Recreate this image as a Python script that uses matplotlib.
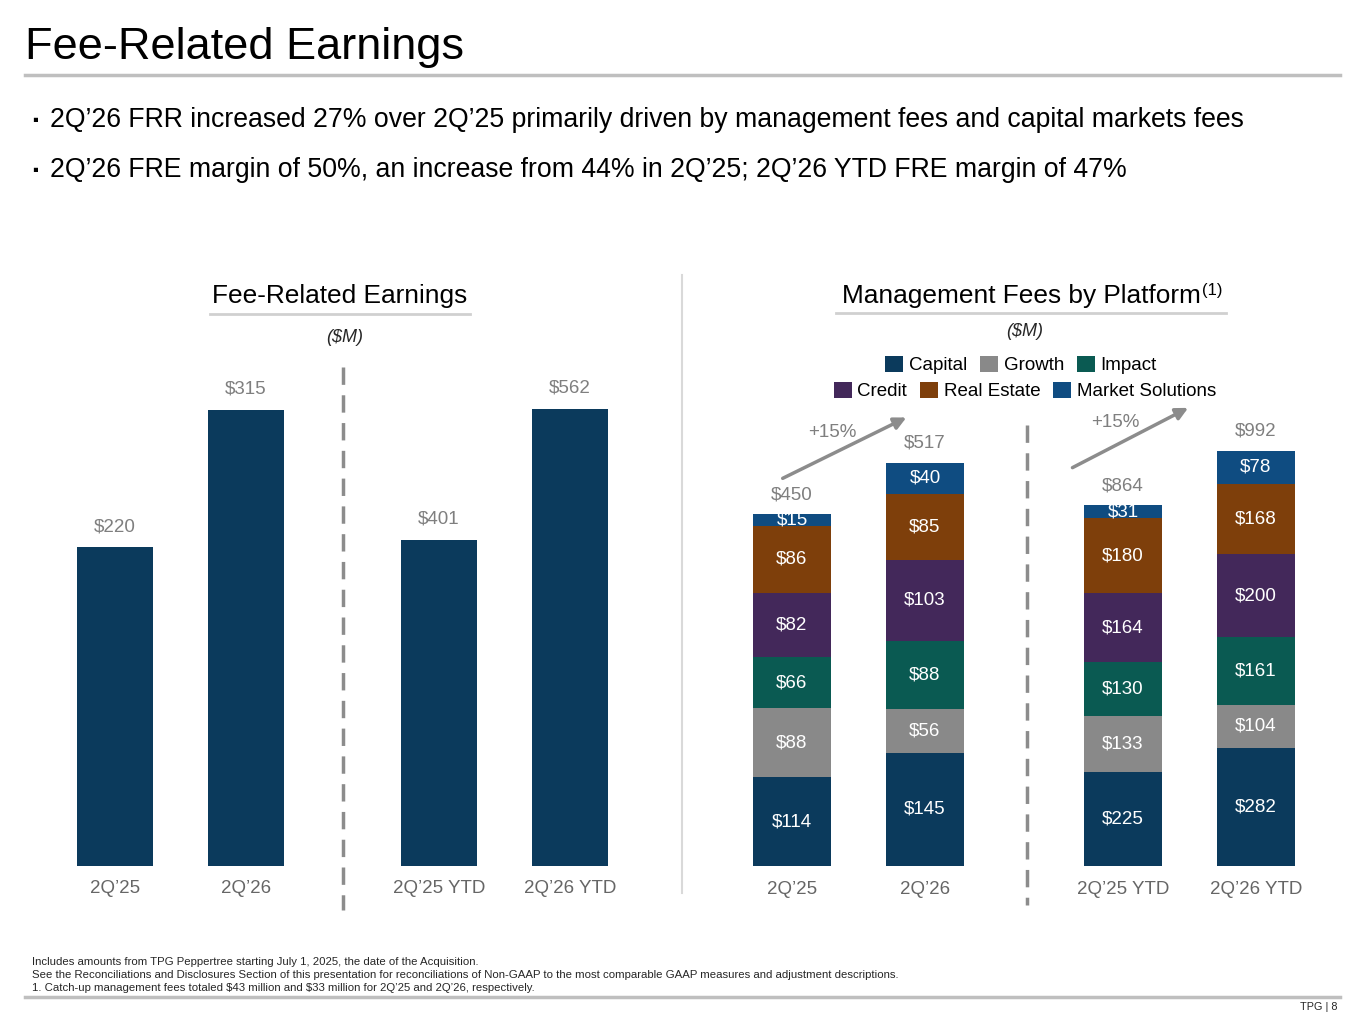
import numpy as np
import matplotlib.pyplot as plt
from matplotlib.lines import Line2D
from matplotlib.patches import Patch

plt.rcParams['font.family'] = ['Liberation Sans', 'DejaVu Sans']

# ---- data ($M) ----
fre_qtr_labels = ["2Q’25", "2Q’26"]
fre_qtr = [220, 315]
fre_ytd_labels = ["2Q’25 YTD", "2Q’26 YTD"]
fre_ytd = [401, 562]

platforms = ["Capital", "Growth", "Impact", "Credit", "Real Estate", "Market Solutions"]
mf_2q25 = [114, 88, 66, 82, 86, 15]
mf_2q26 = [145, 56, 88, 103, 85, 40]
mf_2q25_ytd = [225, 133, 130, 164, 180, 31]
mf_2q26_ytd = [282, 104, 161, 200, 168, 78]
mf_qtr_totals = [450, 517]
mf_ytd_totals = [864, 992]
growth_label = "+15%"

colors = ["#0B3A5C", "#898989", "#0A5A52", "#43285A", "#7E3F0B", "#0F4C81"]
navy = "#0B3A5C"
grey_txt = "#7F7F7F"
cat_txt = "#666666"

W, H = 1365, 1024
fig = plt.figure(figsize=(W / 100, H / 100), dpi=100)


def fx(px):
    return px / W


def fy(py):
    return 1 - py / H


def hline(x0, x1, y, color, lw):
    fig.add_artist(Line2D([fx(x0), fx(x1)], [fy(y), fy(y)], color=color, lw=lw,
                          transform=fig.transFigure))


def vline(x, y0, y1, color, lw, ls='-'):
    fig.add_artist(Line2D([fx(x), fx(x)], [fy(y0), fy(y1)], color=color, lw=lw, ls=ls,
                          dashes=(5, 3) if ls == '--' else (None, None),
                          transform=fig.transFigure))


def make_ax(center0, spacing, scale, base=866, top=380):
    left = center0 - spacing / 2
    ax = fig.add_axes([fx(left), fy(base), 2 * spacing / W, (base - top) / H])
    ax.set_xlim(-0.5, 1.5)
    ax.set_ylim(0, (base - top) / scale)
    ax.axis('off')
    return ax


# ---- header ----
fig.text(fx(25), fy(47), "Fee-Related Earnings", fontsize=32.5, va='center', ha='left', color='black')
hline(25, 1340, 75, "#BFBFBF", 2.5)
fig.text(fx(32), fy(120), "▪", fontsize=12, va='center', ha='left')
fig.text(fx(50), fy(120), "2Q’26 FRR increased 27% over 2Q’25 primarily driven by management fees and capital markets fees",
         fontsize=19.2, va='center', ha='left')
fig.text(fx(32), fy(170), "▪", fontsize=12, va='center', ha='left')
fig.text(fx(50), fy(170), "2Q’26 FRE margin of 50%, an increase from 44% in 2Q’25; 2Q’26 YTD FRE margin of 47%",
         fontsize=19.2, va='center', ha='left')

# ---- section headers ----
fig.text(fx(340), fy(296), "Fee-Related Earnings", fontsize=18.9, ha='center', va='center')
hline(210, 470, 314, "#D0D0D0", 2)
fig.text(fx(345), fy(338), "($M)", fontsize=13, style='italic', ha='center', va='center', color='#262626')

fig.text(fx(1201), fy(296), "Management Fees by Platform", fontsize=18.9, ha='right', va='center')
fig.text(fx(1202), fy(290), "(1)", fontsize=12, ha='left', va='center')
hline(836, 1226, 313, "#D0D0D0", 2)
fig.text(fx(1025), fy(331), "($M)", fontsize=13, style='italic', ha='center', va='center', color='#262626')

# dividers
vline(682, 275, 893, "#D9D9D9", 1.5)
vline(343, 367, 910, "#8C8C8C", 2.5, '--')
vline(1027, 425, 905, "#8C8C8C", 2.5, '--')

# ---- left chart: FRE ----
for labels, vals, c0, sc in [(fre_qtr_labels, fre_qtr, 115, 1.448),
                             (fre_ytd_labels, fre_ytd, 439, 0.814)]:
    ax = make_ax(c0, 131, sc)
    x = np.arange(len(vals))
    ax.bar(x, vals, width=0.58, color=navy)
    for i, v in enumerate(vals):
        ax.annotate(f"${v}", (i, v), xytext=(0, 15), textcoords='offset points',
                    ha='center', va='center', fontsize=13.5, color=grey_txt)
        ax.annotate(labels[i], (i, 0), xytext=(0, -16), textcoords='offset points',
                    ha='center', va='center', fontsize=13.5, color=cat_txt, annotation_clip=False)

# ---- right chart: management fees by platform ----
groups = [
    (fre_qtr_labels, [mf_2q25, mf_2q26], mf_qtr_totals, 792, 0.780),
    (fre_ytd_labels, [mf_2q25_ytd, mf_2q26_ytd], mf_ytd_totals, 1123, 0.418),
]
for gi, (labels, stacks, totals, c0, sc) in enumerate(groups):
    ax = make_ax(c0, 133, sc)
    data = np.array(stacks)  # bars x platforms
    bottoms = np.zeros(len(stacks))
    x = np.arange(len(stacks))
    for j, name in enumerate(platforms):
        ax.bar(x, data[:, j], bottom=bottoms, width=0.585, color=colors[j])
        for i in range(len(stacks)):
            ax.text(i, bottoms[i] + data[i, j] / 2, f"${data[i, j]}", ha='center', va='center',
                    fontsize=13.5, color='white')
        bottoms = bottoms + data[:, j]
    for i, t in enumerate(totals):
        ax.annotate(f"${t}", (i, bottoms[i]), xytext=(0, 14), textcoords='offset points',
                    ha='center', va='center', fontsize=13.5, color=grey_txt)
        ax.annotate(labels[i], (i, 0), xytext=(0, -17), textcoords='offset points',
                    ha='center', va='center', fontsize=13.5, color=cat_txt, annotation_clip=False)
    # growth arrow
    if gi == 0:
        start, end, lab = (-0.07, bottoms[0] + 46), (0.86, bottoms[1] + 58), (0.30, bottoms[1] + 39)
    else:
        start, end, lab = (-0.38, bottoms[0] + 90), (0.49, bottoms[1] + 103), (-0.06, bottoms[1] + 69)
    ax.annotate('', xy=end, xytext=start, annotation_clip=False,
                arrowprops=dict(arrowstyle='-|>', color='#8C8C8C', lw=2.5, mutation_scale=18,
                                shrinkA=0, shrinkB=0))
    ax.text(lab[0], lab[1], growth_label, ha='center', va='center', fontsize=13.5,
            color=grey_txt, clip_on=False)

# legends (two centred rows)
row1 = [Patch(facecolor=colors[j]) for j in range(3)]
row2 = [Patch(facecolor=colors[j]) for j in range(3, 6)]
common = dict(frameon=False, fontsize=13.5, handlelength=0.95, handleheight=0.95,
              handletextpad=0.3, columnspacing=0.7, borderpad=0, loc='center')
fig.legend(row1, platforms[:3], ncol=3, bbox_to_anchor=(fx(1021), fy(365)), **common)
fig.legend(row2, platforms[3:], ncol=3, bbox_to_anchor=(fx(1025), fy(391)), **common)

# ---- footer ----
notes = [
    "Includes amounts from TPG Peppertree starting July 1, 2025, the date of the Acquisition.",
    "See the Reconciliations and Disclosures Section of this presentation for reconciliations of Non-GAAP to the most comparable GAAP measures and adjustment descriptions.",
    "1. Catch-up management fees totaled $43 million and $33 million for 2Q’25 and 2Q’26, respectively.",
]
for k, n in enumerate(notes):
    fig.text(fx(32), fy(962 + 13 * k), n, fontsize=8.2, ha='left', va='center', color='#262626',
             parse_math=False)
hline(25, 1340, 997, "#BFBFBF", 2.5)
fig.text(fx(1338), fy(1007), "TPG | 8", fontsize=7.8, ha='right', va='center', color='#262626')

fig.savefig("out.png", dpi=100)
